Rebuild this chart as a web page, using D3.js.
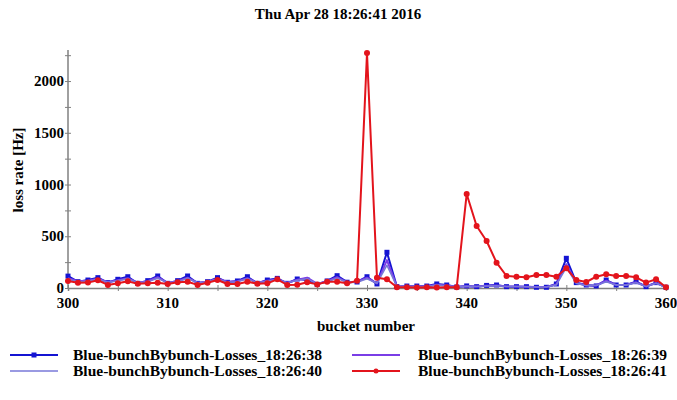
<!DOCTYPE html>
<html>
<head>
<meta charset="utf-8">
<script src="https://cdn.jsdelivr.net/npm/d3@7/dist/d3.min.js"></script>
<style>
  html, body { margin: 0; padding: 0; background: #fff; }
  svg text { font-family: "Liberation Serif", "Times New Roman", serif; font-weight: bold; fill: #000; }
</style>
</head>
<body>
<svg id="chart" width="677" height="400"></svg>
<script>
const title = "Thu Apr 28 18:26:41 2016";
const xLabel = "bucket number";
const yLabel = "loss rate [Hz]";
const buckets = d3.range(300, 361);
const xTickLabels = [300, 310, 320, 330, 340, 350, 360];
const yTickLabels = [0, 500, 1000, 1500, 2000];
const seriesNames = [
  "Blue-bunchBybunch-Losses_18:26:38",
  "Blue-bunchBybunch-Losses_18:26:39",
  "Blue-bunchBybunch-Losses_18:26:40",
  "Blue-bunchBybunch-Losses_18:26:41"
];
const losses38 = [115, 61, 77, 100, 52, 84, 109, 45, 71, 116,
  45, 71, 116, 45, 61, 100, 55, 68, 109, 45,
  77, 93, 45, 87, 77, 35, 68, 119, 56, 58,
  109, 39, 345, 13, 19, 19, 19, 39, 29, 10,
  20, 13, 25, 29, 13, 13, 13, 7, 7, 39,
  287, 52, 29, 20, 77, 29, 29, 61, 13, 52,
  7];
const losses39 = [95, 65, 70, 90, 55, 75, 95, 50, 65, 105,
  50, 65, 100, 50, 60, 90, 60, 65, 95, 50,
  70, 85, 50, 80, 100, 40, 65, 105, 55, 60,
  100, 45, 270, 15, 18, 18, 17, 32, 25, 12,
  18, 15, 22, 25, 15, 15, 12, 10, 10, 35,
  230, 50, 25, 25, 70, 30, 30, 55, 15, 48,
  8];
const losses40 = [85, 60, 65, 85, 55, 70, 90, 50, 60, 95,
  50, 60, 95, 50, 60, 85, 55, 60, 90, 50,
  65, 80, 50, 75, 90, 40, 60, 95, 55, 55,
  90, 45, 220, 15, 17, 16, 15, 28, 22, 12,
  16, 14, 20, 22, 14, 14, 12, 10, 10, 30,
  200, 45, 25, 25, 60, 30, 28, 50, 15, 45,
  8];
const losses41 = [68, 50, 52, 75, 30, 45, 65, 40, 45, 50,
  38, 55, 60, 30, 50, 77, 39, 39, 61, 42,
  45, 84, 29, 32, 55, 35, 61, 61, 45, 70,
  2270, 100, 84, 7, 7, 5, 7, 5, 7, 7,
  908, 599, 454, 245, 116, 109, 103, 125, 125, 109,
  190, 77, 58, 109, 132, 116, 116, 103, 52, 84,
  7];

const seriesValues = [losses38, losses39, losses40, losses41];
const colors = ["#1414d2", "#7a3ee6", "#7878d8", "#e3141c"];
const markers = ["square", "none", "none", "circle"];
const widths = [2, 2, 1.6, 2];

const svg = d3.select("#chart");
const x = d3.scaleLinear().domain([300, 360]).range([68, 666]);
const y = d3.scaleLinear().domain([0, 2300]).range([288, 50]);
const axisColor = "#808080";

// title
svg.append("text").attr("x", 338).attr("y", 19).attr("text-anchor", "middle")
  .attr("font-size", 15).text(title);

// axes
const gx = svg.append("g").attr("transform", `translate(0,${y(0)})`)
  .call(d3.axisBottom(x).tickValues(d3.range(300, 361, 5)).tickSize(3).tickFormat(""));
gx.select(".domain").attr("stroke", axisColor).attr("stroke-width", 1.5);
gx.selectAll(".tick line").attr("stroke", axisColor).attr("y1", -3).attr("y2", 3);

svg.append("g").selectAll("text").data(xTickLabels).join("text")
  .attr("x", d => x(d)).attr("y", 308).attr("text-anchor", "middle")
  .attr("font-size", 15).text(d => d);

const gy = svg.append("g").attr("transform", `translate(${x(300)},0)`)
  .call(d3.axisLeft(y).tickValues(d3.range(0, 2251, 250)).tickSize(3).tickFormat(""));
gy.select(".domain").attr("stroke", axisColor).attr("stroke-width", 1.5)
  .attr("d", `M0,${y(0)}V${y(2300)}`);
gy.selectAll(".tick line").attr("stroke", axisColor).attr("x1", -3).attr("x2", 3);

svg.append("g").selectAll("text").data(yTickLabels).join("text")
  .attr("x", 64).attr("y", d => y(d) + 5).attr("text-anchor", "end")
  .attr("font-size", 15).text(d => d);

svg.append("text").attr("x", 366).attr("y", 331).attr("text-anchor", "middle")
  .attr("font-size", 15).text(xLabel);
svg.append("text").attr("transform", "translate(23,170) rotate(-90)")
  .attr("text-anchor", "middle").attr("font-size", 15).text(yLabel);

// series
const line = d3.line().x((d, i) => x(buckets[i])).y(d => y(d));
seriesValues.forEach((vals, k) => {
  const g = svg.append("g");
  g.append("path").datum(vals).attr("d", line).attr("fill", "none")
    .attr("stroke", colors[k]).attr("stroke-width", widths[k]).attr("stroke-linejoin", "round");
  if (markers[k] === "square") {
    g.selectAll("rect").data(vals).join("rect")
      .attr("x", (d, i) => x(buckets[i]) - 2.5).attr("y", d => y(d) - 2.5)
      .attr("width", 5).attr("height", 5).attr("fill", colors[k]);
  } else if (markers[k] === "circle") {
    g.selectAll("circle").data(vals).join("circle")
      .attr("cx", (d, i) => x(buckets[i])).attr("cy", d => y(d))
      .attr("r", 3).attr("fill", colors[k]);
  }
});

// legend
const legendPos = [
  {lx: 10, tx: 73, y: 355},
  {lx: 352, tx: 418, y: 355},
  {lx: 10, tx: 73, y: 371},
  {lx: 352, tx: 418, y: 371}
];
seriesNames.forEach((name, k) => {
  const p = legendPos[k];
  const g = svg.append("g");
  g.append("line").attr("x1", p.lx).attr("x2", p.lx + 48).attr("y1", p.y).attr("y2", p.y)
    .attr("stroke", colors[k]).attr("stroke-width", widths[k]);
  if (markers[k] === "square") {
    g.append("rect").attr("x", p.lx + 24 - 2.5).attr("y", p.y - 2.5).attr("width", 5).attr("height", 5).attr("fill", colors[k]);
  } else if (markers[k] === "circle") {
    g.append("circle").attr("cx", p.lx + 24).attr("cy", p.y).attr("r", 2.5).attr("fill", colors[k]);
  }
  g.append("text").attr("x", p.tx).attr("y", p.y + 5).attr("font-size", 15)
    .attr("textLength", 249).attr("lengthAdjust", "spacingAndGlyphs").text(name);
});
</script>
</body>
</html>
